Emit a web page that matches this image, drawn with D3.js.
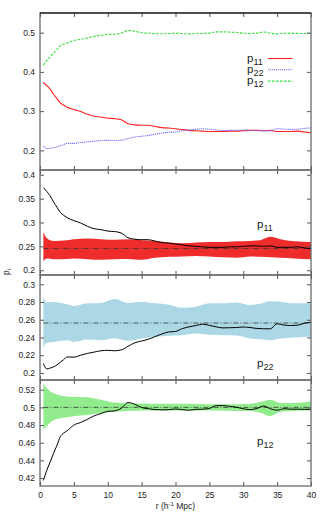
<!DOCTYPE html>
<html>
<head>
<meta charset="utf-8">
<script src="https://cdn.jsdelivr.net/npm/d3@7"></script>
<style>
body { margin: 0; background: #fff; }
text { font-family: "Liberation Sans", Arial, sans-serif; fill: #222; }
</style>
</head>
<body>
<div id="chart"></div>
<script>
// separations r (h^-1 Mpc) for the measured curves
var rVals = [0.5, 1, 1.5, 2, 2.5, 3, 3.5, 4, 5, 6, 7, 8, 9, 10, 11, 12, 13, 14, 15, 16, 17, 18, 19, 20,
  21, 22, 23, 24, 25, 26, 27, 28, 29, 30, 31, 32, 33, 34, 35, 36, 37, 38, 39, 40];
var p11 = [0.373, 0.365, 0.356, 0.343, 0.332, 0.321, 0.315, 0.310, 0.304, 0.299, 0.292, 0.287, 0.285, 0.282,
  0.281, 0.278, 0.268, 0.265, 0.264, 0.264, 0.261, 0.258, 0.257, 0.255, 0.253, 0.251, 0.250, 0.249, 0.248,
  0.248, 0.248, 0.249, 0.249, 0.250, 0.251, 0.251, 0.250, 0.251, 0.248, 0.248, 0.248, 0.249, 0.247, 0.245];
var p22 = [0.2106, 0.2045, 0.2055, 0.2068, 0.209, 0.212, 0.215, 0.218, 0.2178, 0.220, 0.222, 0.2235, 0.225,
  0.2255, 0.225, 0.226, 0.230, 0.234, 0.236, 0.238, 0.241, 0.244, 0.2462, 0.2468, 0.250, 0.252, 0.2535, 0.255,
  0.2537, 0.252, 0.2508, 0.251, 0.2512, 0.2518, 0.2512, 0.2502, 0.2498, 0.2498, 0.2555, 0.254, 0.2535, 0.2538,
  0.256, 0.257];
var p12 = [0.4173, 0.4287, 0.4382, 0.448, 0.457, 0.4668, 0.471, 0.4735, 0.480, 0.4829, 0.4865, 0.4905, 0.493,
  0.4955, 0.496, 0.499, 0.5055, 0.5035, 0.4998, 0.4985, 0.4975, 0.4972, 0.4974, 0.4982, 0.4975, 0.4968, 0.4978,
  0.498, 0.4988, 0.502, 0.502, 0.5012, 0.5002, 0.4985, 0.4975, 0.4987, 0.5015, 0.4985, 0.4968, 0.4985, 0.498,
  0.498, 0.4978, 0.4978];

// random-catalogue spread (upper / lower envelope) and mean
var bandR = [0.5, 1, 2, 4, 5, 7, 9, 11, 13, 15, 17, 19, 21, 23, 25, 27, 29, 31, 32.5, 34, 35.5, 37.5, 40];
var p11Hi = [0.280, 0.267, 0.2615, 0.263, 0.265, 0.2664, 0.265, 0.2636, 0.265, 0.263, 0.2615, 0.258, 0.2566,
  0.258, 0.2594, 0.2594, 0.2608, 0.2615, 0.263, 0.270, 0.265, 0.2608, 0.2594];
var p11Lo = [0.219, 0.2245, 0.223, 0.2235, 0.2245, 0.223, 0.2217, 0.223, 0.2235, 0.2217, 0.226, 0.228, 0.229,
  0.230, 0.2287, 0.227, 0.226, 0.2287, 0.228, 0.227, 0.226, 0.2245, 0.223];
var p22Hi = [0.286, 0.2796, 0.280, 0.2775, 0.2755, 0.2785, 0.279, 0.2834, 0.279, 0.2804, 0.2785, 0.277, 0.2736,
  0.2747, 0.2785, 0.2785, 0.2796, 0.2766, 0.278, 0.281, 0.2804, 0.2785, 0.2785];
var p22Lo = [0.2287, 0.234, 0.235, 0.237, 0.2351, 0.2377, 0.237, 0.2392, 0.2362, 0.2389, 0.2408, 0.242, 0.2426,
  0.2445, 0.243, 0.2425, 0.2423, 0.2389, 0.238, 0.237, 0.2389, 0.240, 0.2408];
var p12Hi = [0.5268, 0.522, 0.516, 0.5124, 0.512, 0.5116, 0.5086, 0.5056, 0.5048, 0.5045, 0.5042, 0.504, 0.504,
  0.5038, 0.5036, 0.5036, 0.5036, 0.504, 0.506, 0.5086, 0.505, 0.505, 0.5067];
var p12Lo = [0.4751, 0.479, 0.4855, 0.4888, 0.490, 0.4915, 0.4934, 0.4953, 0.496, 0.4962, 0.4964, 0.4964, 0.4964,
  0.4964, 0.4964, 0.4962, 0.496, 0.496, 0.494, 0.4903, 0.495, 0.496, 0.4964];
var means = [0.2455, 0.2563, 0.5];

var xTicks = [0, 5, 10, 15, 20, 25, 30, 35, 40];
var legendNames = ["11", "22", "12"];

var w = 324, h = 514;
var left = 40, right = 311;

var svg = d3.select("#chart").append("svg")
  .attr("width", w)
  .attr("height", h);

var x = d3.scaleLinear().domain([0, 40]).range([left, right]);

// panel layout
var panels = [
  {top: 13, bottom: 170, domain: [0.15, 0.55], ticks: [0.2, 0.3, 0.4, 0.5], fmt: d3.format(".1f")},
  {top: 170, bottom: 275, domain: [0.19, 0.41], ticks: [0.2, 0.25, 0.3, 0.35, 0.4], fmt: d3.format("")},
  {top: 275, bottom: 380, domain: [0.192, 0.3105], ticks: [0.2, 0.22, 0.24, 0.26, 0.28, 0.3], fmt: d3.format("")},
  {top: 380, bottom: 486, domain: [0.411, 0.531], ticks: [0.42, 0.44, 0.46, 0.48, 0.5, 0.52], fmt: d3.format("")}
];
panels.forEach(function(p, i) {
  p.y = d3.scaleLinear().domain(p.domain).range([p.bottom, p.top]);
  svg.append("clipPath").attr("id", "clip" + i)
    .append("rect")
    .attr("x", left).attr("y", p.top)
    .attr("width", right - left).attr("height", p.bottom - p.top);
});

function lineFor(yScale, vals) {
  return d3.line()
    .x(function(d, i) { return x(rVals[i]); })
    .y(function(d) { return yScale(d); })
    .curve(d3.curveMonotoneX)(vals);
}

// top panel: all three curves
var p0 = panels[0];
var g0 = svg.append("g").attr("clip-path", "url(#clip0)");
var topSeries = [
  {vals: p11, color: "#ff2020", dash: null},
  {vals: p22, color: "#7070ff", dash: "1.2,0.8"},
  {vals: p12, color: "#33dd33", dash: "2.5,1.5"}
];
topSeries.forEach(function(s) {
  g0.append("path")
    .attr("d", lineFor(p0.y, s.vals))
    .attr("fill", "none")
    .attr("stroke", s.color)
    .attr("stroke-width", 1.1)
    .attr("stroke-dasharray", s.dash);
});

// legend
topSeries.forEach(function(s, i) {
  var ly = 58.5 + i * 11.3;
  var t = svg.append("text")
    .attr("x", 247).attr("y", ly + 3)
    .style("font-size", "11.5px");
  t.append("tspan").text("p");
  t.append("tspan").attr("dy", 3).style("font-size", "9px").text(legendNames[i]);
  svg.append("line")
    .attr("x1", 268).attr("x2", 292.5)
    .attr("y1", ly).attr("y2", ly)
    .attr("stroke", s.color)
    .attr("stroke-width", 1.1)
    .attr("stroke-dasharray", s.dash);
});

// lower panels: spread band, mean and measured curve
var lower = [
  {vals: p11, hi: p11Hi, lo: p11Lo, fill: "#ee2c2c", name: "11", ly: 228},
  {vals: p22, hi: p22Hi, lo: p22Lo, fill: "#acd8e6", name: "22", ly: 367},
  {vals: p12, hi: p12Hi, lo: p12Lo, fill: "#92ec8e", name: "12", ly: 445}
];
lower.forEach(function(s, k) {
  var p = panels[k + 1];
  var g = svg.append("g").attr("clip-path", "url(#clip" + (k + 1) + ")");
  var area = d3.area()
    .x(function(d, i) { return x(bandR[i]); })
    .y0(function(d, i) { return p.y(s.lo[i]); })
    .y1(function(d) { return p.y(d); })
    .curve(d3.curveMonotoneX);
  g.append("path")
    .attr("d", area(s.hi))
    .attr("fill", s.fill);
  g.append("line")
    .attr("x1", x(0.5)).attr("x2", x(40))
    .attr("y1", p.y(means[k])).attr("y2", p.y(means[k]))
    .attr("stroke", "#333")
    .attr("stroke-width", 0.8)
    .attr("stroke-dasharray", "5,2,1,2");
  g.append("path")
    .attr("d", lineFor(p.y, s.vals))
    .attr("fill", "none")
    .attr("stroke", "#000")
    .attr("stroke-width", 1);
  var t = svg.append("text")
    .attr("x", 257).attr("y", s.ly)
    .style("font-size", "11.5px");
  t.append("tspan").text("p");
  t.append("tspan").attr("dy", 3).style("font-size", "9px").text(s.name);
});

// axes, ticks and frames
panels.forEach(function(p, i) {
  var yAxis = d3.axisLeft(p.y).tickValues(p.ticks).tickSize(-4).tickPadding(5).tickFormat(p.fmt);
  var ga = svg.append("g").attr("transform", "translate(" + left + ",0)").call(yAxis);
  var gr = svg.append("g").attr("transform", "translate(" + right + ",0)")
    .call(d3.axisRight(p.y).tickValues(p.ticks).tickSize(-4).tickFormat(""));
  var gb = svg.append("g").attr("transform", "translate(0," + p.bottom + ")")
    .call(d3.axisBottom(x).tickValues(xTicks).tickSize(-4).tickPadding(6)
      .tickFormat(i == 3 ? d3.format("") : ""));
  var gt = svg.append("g").attr("transform", "translate(0," + p.top + ")")
    .call(d3.axisTop(x).tickValues(xTicks).tickSize(-4).tickFormat(""));
  [ga, gr, gb, gt].forEach(function(g) {
    g.select(".domain").remove();
    g.selectAll(".tick line").attr("stroke", "#555");
    g.selectAll("text").style("font-size", "8.5px").attr("fill", "#222")
      .style("font-family", "'Liberation Sans', Arial, sans-serif");
  });
  svg.append("rect")
    .attr("x", left).attr("y", p.top)
    .attr("width", right - left).attr("height", p.bottom - p.top)
    .attr("fill", "none")
    .attr("stroke", "#6a6a6a")
    .attr("stroke-width", 1.3);
});
svg.append("line")
  .attr("x1", left).attr("x2", right)
  .attr("y1", 13).attr("y2", 13)
  .attr("stroke", "#000").attr("stroke-width", 1.2);

// axis titles
var xt = svg.append("text")
  .attr("x", (left + right) / 2).attr("y", 509)
  .attr("text-anchor", "middle")
  .style("font-size", "8.5px");
xt.append("tspan").text("r (h");
xt.append("tspan").attr("dy", -3).style("font-size", "6px").text("-1");
xt.append("tspan").attr("dy", 3).text(" Mpc)");

var yt = svg.append("text")
  .attr("transform", "translate(9,272) rotate(-90)")
  .attr("text-anchor", "middle")
  .style("font-size", "8.5px");
yt.append("tspan").text("p");
yt.append("tspan").attr("dy", 2).style("font-size", "6px").text("i");
</script>
</body>
</html>
